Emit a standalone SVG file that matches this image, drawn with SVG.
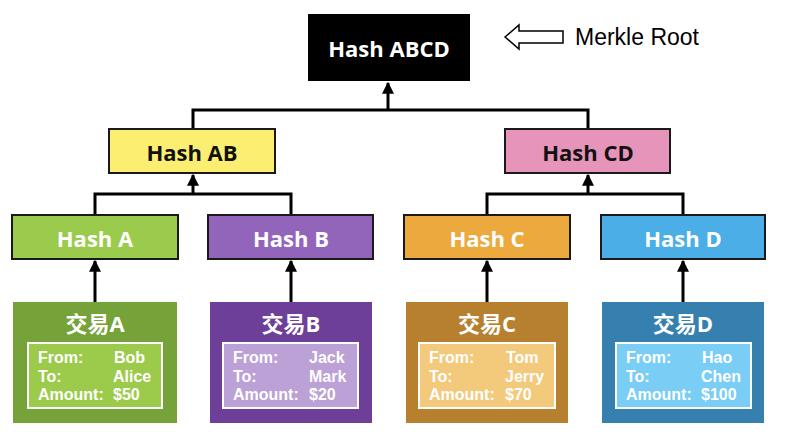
<svg xmlns="http://www.w3.org/2000/svg" width="794" height="435" viewBox="0 0 794 435">
<defs>
<style>
.hash{stroke:#1a1a1a;stroke-width:2}
.ht{font-family:"Open Sans","Noto Sans",sans-serif;font-weight:bold;font-size:22px;text-anchor:middle;dominant-baseline:central}
.tt{font-family:"Open Sans","Noto Sans CJK SC",sans-serif;font-weight:bold;font-size:22px;fill:#fff;text-anchor:middle;dominant-baseline:central}
.tx{font-family:"Liberation Sans",Arial,sans-serif;font-weight:bold;font-size:16px;fill:#fff}
.inner{stroke:#fff;stroke-width:2}
.conn{fill:none;stroke:#000;stroke-width:3}
</style>
<marker id="ah" viewBox="0 0 10 10" refX="9" refY="5" markerWidth="4" markerHeight="4" orient="auto" markerUnits="strokeWidth">
<path d="M0,0 L10,5 L0,10 z" fill="#000"/>
</marker>
</defs>
<rect width="794" height="435" fill="#fff"/>
<g id="connectors">
<path class="conn" d="M193,129 V110 H588 V129"/>
<path class="conn" d="M388,110 V83" marker-end="url(#ah)"/>
<path class="conn" d="M95,215 V194 H291 V215"/>
<path class="conn" d="M193,194 V175" marker-end="url(#ah)"/>
<path class="conn" d="M487,215 V194 H683 V215"/>
<path class="conn" d="M588,194 V175" marker-end="url(#ah)"/>
<path class="conn" d="M95,302 V261" marker-end="url(#ah)"/>
<path class="conn" d="M291,302 V261" marker-end="url(#ah)"/>
<path class="conn" d="M487,302 V261" marker-end="url(#ah)"/>
<path class="conn" d="M683,302 V261" marker-end="url(#ah)"/>
</g>
<g id="root">
<rect x="308" y="14" width="162" height="67" fill="#000"/>
<text class="ht" x="389" y="48" fill="#fff" font-size="23">Hash ABCD</text>
</g>
<g id="merkle-label">
<path d="M505,37 L519,25 L519,31 L563,31 L563,43 L519,43 L519,49 Z" fill="#fff" stroke="#000" stroke-width="1.5"/>
<text x="575" y="45" font-family="Liberation Sans, Arial, sans-serif" font-size="23" fill="#000">Merkle Root</text>
</g>
<g id="hashAB">
<rect class="hash" x="109" y="129" width="166" height="44" fill="#FCEE70"/>
<text class="ht" x="192" y="152" fill="#111">Hash AB</text>
</g>
<g id="hashCD">
<rect class="hash" x="505" y="129" width="165" height="44" fill="#E694B9"/>
<text class="ht" x="588" y="152" fill="#111">Hash CD</text>
</g>
<g id="hashA">
<rect class="hash" x="12" y="215" width="166" height="44" fill="#9BCB4C"/>
<text class="ht" x="95" y="238" fill="#fff">Hash A</text>
</g>
<g id="hashB">
<rect class="hash" x="208" y="215" width="165" height="44" fill="#9265BA"/>
<text class="ht" x="291" y="238" fill="#fff">Hash B</text>
</g>
<g id="hashC">
<rect class="hash" x="404" y="215" width="166" height="44" fill="#EBA93E"/>
<text class="ht" x="487" y="238" fill="#fff">Hash C</text>
</g>
<g id="hashD">
<rect class="hash" x="601" y="215" width="164" height="44" fill="#4BAEE7"/>
<text class="ht" x="683" y="238" fill="#fff">Hash D</text>
</g>
<g id="txA">
<rect x="13" y="302" width="164" height="121" fill="#76A23A"/>
<text class="tt" x="95" y="323">交易A</text>
<rect class="inner" x="28" y="343" width="134" height="65" fill="#9CCB4C"/>
<text class="tx" x="38" y="363">From:</text><text class="tx" x="114" y="363">Bob</text>
<text class="tx" x="38" y="382">To:</text><text class="tx" x="113" y="382">Alice</text>
<text class="tx" x="38" y="400">Amount:</text><text class="tx" x="113" y="400">$50</text>
</g>
<g id="txB">
<rect x="210" y="302" width="162" height="121" fill="#6D3F98"/>
<text class="tt" x="291" y="323">交易B</text>
<rect class="inner" x="223" y="343" width="135" height="65" fill="#BBA1D6"/>
<text class="tx" x="233" y="363">From:</text><text class="tx" x="309" y="363">Jack</text>
<text class="tx" x="233" y="382">To:</text><text class="tx" x="309" y="382">Mark</text>
<text class="tx" x="233" y="400">Amount:</text><text class="tx" x="309" y="400">$20</text>
</g>
<g id="txC">
<rect x="406" y="302" width="162" height="121" fill="#B7802F"/>
<text class="tt" x="487" y="323">交易C</text>
<rect class="inner" x="419" y="343" width="136" height="65" fill="#F3C97C"/>
<text class="tx" x="429" y="363">From:</text><text class="tx" x="506" y="363">Tom</text>
<text class="tx" x="429" y="382">To:</text><text class="tx" x="505" y="382">Jerry</text>
<text class="tx" x="429" y="400">Amount:</text><text class="tx" x="505" y="400">$70</text>
</g>
<g id="txD">
<rect x="602" y="302" width="162" height="121" fill="#3680B0"/>
<text class="tt" x="683" y="323">交易D</text>
<rect class="inner" x="616" y="343" width="135" height="65" fill="#7ACDF5"/>
<text class="tx" x="626" y="363">From:</text><text class="tx" x="702" y="363">Hao</text>
<text class="tx" x="626" y="382">To:</text><text class="tx" x="701" y="382">Chen</text>
<text class="tx" x="626" y="400">Amount:</text><text class="tx" x="701" y="400">$100</text>
</g>
</svg>
